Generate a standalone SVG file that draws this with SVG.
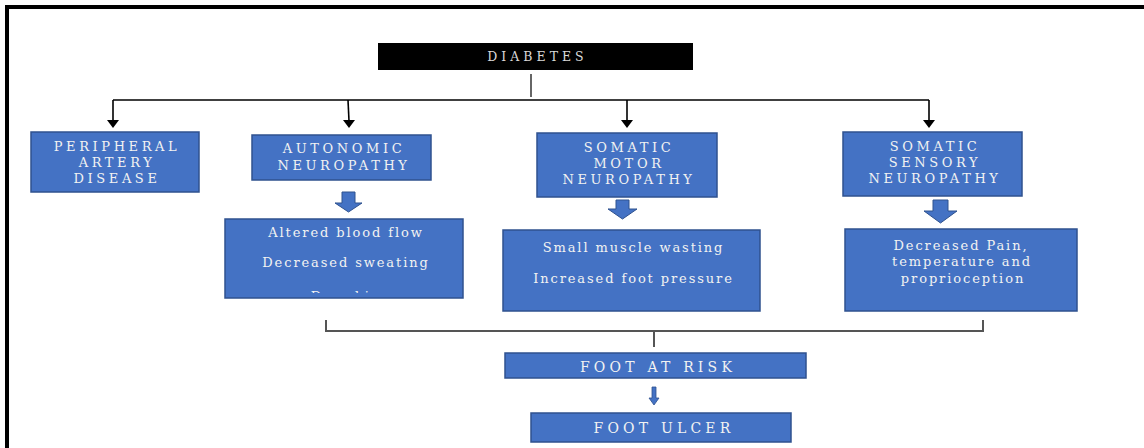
<svg xmlns="http://www.w3.org/2000/svg" width="1144" height="448" viewBox="0 0 1144 448">
<defs>
<style>
.box{fill:#4472C4;stroke:#2F528F;stroke-width:1.5}
.blk{fill:#4472C4;stroke:#2F528F;stroke-width:1}
.t{font-family:"DejaVu Serif","Liberation Serif",serif;fill:#f2f2f2;text-anchor:middle}
.cap{font-size:13px;letter-spacing:3.6px}
.low{font-size:13px;letter-spacing:1.9px}
.foot{font-size:14px;letter-spacing:4.2px}
.dia{font-size:12.5px;letter-spacing:4px;fill:#d9d9d9}
.ln{stroke:#000;stroke-width:1.6;fill:none}
.br{stroke:#555;stroke-width:2;fill:none}
</style>
<clipPath id="clipA"><rect x="225" y="219" width="238" height="74"/></clipPath>
</defs>
<rect width="1144" height="448" fill="#fff"/>
<g id="frame">
<rect x="5" y="5" width="1139" height="4" fill="#000"/>
<rect x="5" y="5" width="4" height="443" fill="#000"/>
</g>
<g id="connectors">
<line x1="531" y1="74" x2="531" y2="97" stroke="#666" stroke-width="2"/>
<path class="ln" d="M113,100 H929"/>
<line class="ln" x1="113" y1="100" x2="113" y2="121"/>
<path d="M107,120 L119,120 L113,128 Z" fill="#000"/>
<line class="ln" x1="348" y1="100" x2="349" y2="121"/>
<path d="M343,120 L355,120 L349,128 Z" fill="#000"/>
<line class="ln" x1="627" y1="100" x2="627" y2="121"/>
<path d="M621,120 L633,120 L627,128 Z" fill="#000"/>
<line class="ln" x1="929" y1="100" x2="929" y2="121"/>
<path d="M923,120 L935,120 L929,128 Z" fill="#000"/>
<path class="blk" d="M342,192 H355 V203 H362 L348.5,212 L335,203 H342 Z"/>
<path class="blk" d="M616,200 H629 V209 H637 L622.5,219 L608,209 H616 Z"/>
<path class="blk" d="M933,200 H948 V211 H957 L940.5,223 L924,211 H933 Z"/>
<path class="br" d="M326,320 V331 H983 V320"/>
<line class="br" x1="654" y1="332" x2="654" y2="347"/>
<path d="M652,387 H656 V398 H659 L654,405 L649,398 H652 Z" fill="#4472C4" stroke="#2F528F" stroke-width="0.8"/>
</g>
<g id="diabetes">
<rect x="378" y="43" width="315" height="27" fill="#000"/>
<text class="t dia" x="537.5" y="61">DIABETES</text>
</g>
<g id="pad">
<rect class="box" x="31" y="132" width="168" height="60"/>
<text class="t cap" x="117" y="150.5">PERIPHERAL</text>
<text class="t cap" x="117" y="166.5">ARTERY</text>
<text class="t cap" x="117" y="182.5">DISEASE</text>
</g>
<g id="autonomic">
<rect class="box" x="252" y="135" width="179" height="45"/>
<text class="t cap" x="344" y="153">AUTONOMIC</text>
<text class="t cap" x="344" y="170">NEUROPATHY</text>
</g>
<g id="motor">
<rect class="box" x="537" y="133" width="180" height="64"/>
<text class="t cap" x="629" y="152">SOMATIC</text>
<text class="t cap" x="629" y="167.5">MOTOR</text>
<text class="t cap" x="629" y="183.5">NEUROPATHY</text>
</g>
<g id="sensory">
<rect class="box" x="843" y="132" width="179" height="64"/>
<text class="t cap" x="935" y="150.5">SOMATIC</text>
<text class="t cap" x="935" y="166.5">SENSORY</text>
<text class="t cap" x="935" y="182.5">NEUROPATHY</text>
</g>
<g id="autonomic-effects">
<rect class="box" x="225" y="219" width="238" height="79"/>
<text class="t low" x="346" y="237">Altered blood flow</text>
<text class="t low" x="346" y="267">Decreased sweating</text>
<text class="t low" x="346" y="301" clip-path="url(#clipA)">Dry skin</text>
</g>
<g id="motor-effects">
<rect class="box" x="503" y="230" width="257" height="81"/>
<text class="t low" x="633.5" y="252">Small muscle wasting</text>
<text class="t low" x="633.5" y="283">Increased foot pressure</text>
</g>
<g id="sensory-effects">
<rect class="box" x="845" y="229" width="232" height="82"/>
<text class="t low" x="961" y="250">Decreased Pain,</text>
<text class="t low" x="962" y="266">temperature and</text>
<text class="t low" x="963" y="283">proprioception</text>
</g>
<g id="foot-at-risk">
<rect class="box" x="505" y="353" width="301" height="25"/>
<text class="t foot" x="658" y="372">FOOT AT RISK</text>
</g>
<g id="foot-ulcer">
<rect class="box" x="531" y="413" width="260" height="29"/>
<text class="t foot" x="664" y="432.5">FOOT ULCER</text>
</g>
</svg>
